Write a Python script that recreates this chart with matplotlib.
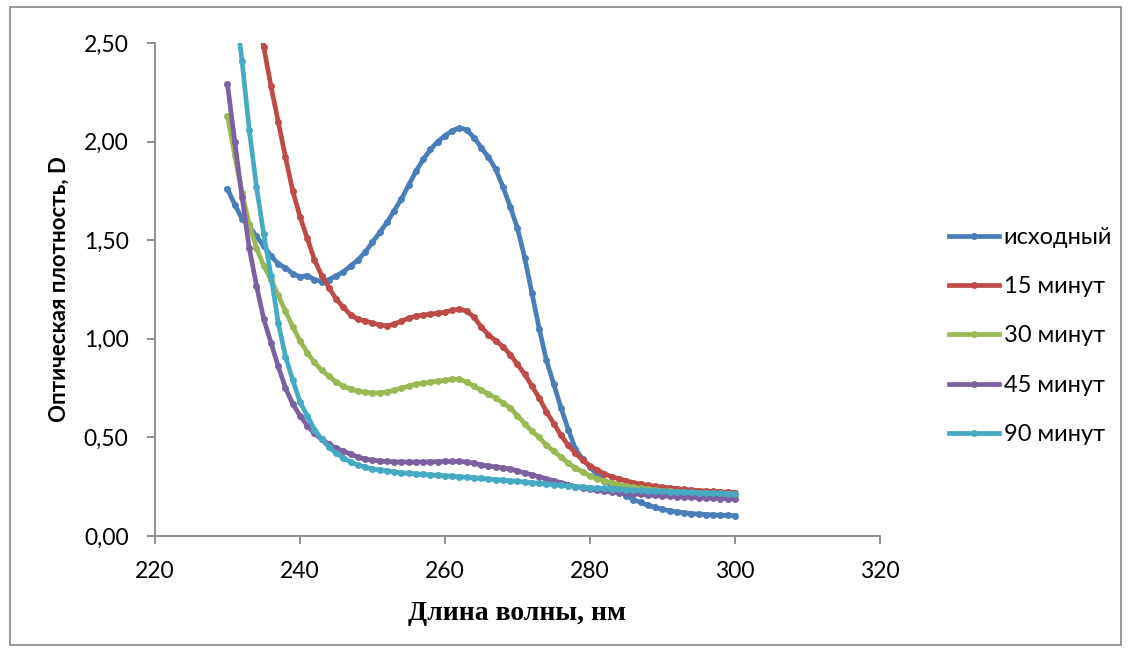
import numpy as np
import matplotlib.pyplot as plt
from matplotlib.patches import Rectangle
from matplotlib.ticker import FuncFormatter

# wavelength, nm (step 1 nm)
wl = np.arange(230, 301)

ishodny = [1.76, 1.68, 1.61, 1.57, 1.52, 1.47, 1.42, 1.38, 1.36, 1.33,
           1.315, 1.32, 1.30, 1.29, 1.30, 1.32, 1.34, 1.37, 1.40, 1.44,
           1.49, 1.54, 1.59, 1.65, 1.71, 1.78, 1.85, 1.91, 1.96, 2.00,
           2.03, 2.055, 2.07, 2.06, 2.02, 1.97, 1.92, 1.86, 1.77, 1.67,
           1.56, 1.41, 1.23, 1.05, 0.89, 0.77, 0.65, 0.54, 0.44, 0.39,
           0.35, 0.31, 0.28, 0.255, 0.23, 0.205, 0.185, 0.17, 0.155, 0.145,
           0.135, 0.128, 0.122, 0.118, 0.114, 0.111, 0.109, 0.107, 0.105, 0.104,
           0.103]

min15 = [3.75, 3.45, 3.18, 2.93, 2.70, 2.48, 2.28, 2.10, 1.92, 1.75,
         1.62, 1.51, 1.40, 1.32, 1.26, 1.20, 1.16, 1.12, 1.10, 1.09,
         1.08, 1.07, 1.065, 1.075, 1.09, 1.105, 1.115, 1.12, 1.125, 1.13,
         1.135, 1.145, 1.15, 1.14, 1.11, 1.06, 1.02, 0.99, 0.96, 0.92,
         0.87, 0.82, 0.76, 0.70, 0.63, 0.57, 0.51, 0.46, 0.42, 0.385,
         0.355, 0.335, 0.315, 0.30, 0.29, 0.28, 0.27, 0.263, 0.257, 0.252,
         0.248, 0.244, 0.240, 0.236, 0.233, 0.230, 0.228, 0.226, 0.224, 0.222,
         0.220]

min30 = [2.13, 1.93, 1.74, 1.58, 1.46, 1.37, 1.30, 1.22, 1.14, 1.06,
         0.99, 0.93, 0.88, 0.84, 0.81, 0.78, 0.76, 0.745, 0.735, 0.73,
         0.725, 0.725, 0.73, 0.74, 0.75, 0.76, 0.77, 0.775, 0.78, 0.785,
         0.79, 0.795, 0.795, 0.78, 0.76, 0.74, 0.72, 0.70, 0.675, 0.65,
         0.61, 0.57, 0.53, 0.50, 0.46, 0.43, 0.40, 0.37, 0.345, 0.325,
         0.305, 0.29, 0.28, 0.27, 0.26, 0.253, 0.247, 0.242, 0.237, 0.233,
         0.230, 0.227, 0.224, 0.222, 0.220, 0.218, 0.216, 0.214, 0.213, 0.212,
         0.210]

min45 = [2.29, 2.00, 1.72, 1.46, 1.27, 1.10, 0.98, 0.86, 0.75, 0.67,
         0.61, 0.56, 0.52, 0.49, 0.465, 0.445, 0.43, 0.415, 0.40, 0.39,
         0.385, 0.38, 0.378, 0.376, 0.375, 0.375, 0.375, 0.375, 0.376, 0.377,
         0.378, 0.378, 0.378, 0.375, 0.37, 0.36, 0.355, 0.35, 0.345, 0.34,
         0.33, 0.32, 0.31, 0.30, 0.29, 0.28, 0.27, 0.26, 0.25, 0.243,
         0.237, 0.232, 0.228, 0.224, 0.220, 0.217, 0.214, 0.211, 0.208, 0.206,
         0.204, 0.202, 0.200, 0.198, 0.196, 0.195, 0.193, 0.192, 0.190, 0.189,
         0.188]

min90 = [3.00, 2.70, 2.41, 2.06, 1.77, 1.53, 1.32, 1.08, 0.91, 0.79,
         0.68, 0.61, 0.54, 0.49, 0.45, 0.42, 0.395, 0.375, 0.36, 0.35,
         0.34, 0.335, 0.33, 0.325, 0.32, 0.318, 0.315, 0.312, 0.31, 0.308,
         0.305, 0.303, 0.30, 0.298, 0.295, 0.292, 0.289, 0.286, 0.283, 0.280,
         0.277, 0.274, 0.270, 0.267, 0.264, 0.260, 0.257, 0.254, 0.251, 0.248,
         0.245, 0.243, 0.241, 0.239, 0.237, 0.235, 0.233, 0.231, 0.229, 0.228,
         0.226, 0.225, 0.223, 0.222, 0.221, 0.219, 0.218, 0.217, 0.216, 0.215,
         0.213]

series = [
    ("исходный", ishodny, "#4A7EBB"),
    ("15 минут", min15, "#BE4B48"),
    ("30 минут", min30, "#98B954"),
    ("45 минут", min45, "#7D60A0"),
    ("90 минут", min90, "#46AAC5"),
]

plt.rcParams['font.family'] = ['Lato', 'DejaVu Sans']

fig = plt.figure(figsize=(11.3, 6.53), dpi=100)
ax = fig.add_axes([155 / 1130, 1 - 536 / 653, 725 / 1130, 493 / 653])

for name, vals, col in series:
    ax.plot(wl, vals, color=col, lw=3.4, marker='o', ms=4.0, label=name)

ax.set_xlim(220, 320)
ax.set_ylim(0, 2.5)
ax.set_xticks(np.arange(220, 321, 20))
ax.set_yticks(np.arange(0, 2.51, 0.5))
ax.yaxis.set_major_formatter(FuncFormatter(lambda v, p: f"{v:.2f}".replace('.', ',')))

for s in ['top', 'right']:
    ax.spines[s].set_visible(False)
for s in ['left', 'bottom']:
    ax.spines[s].set_color('#868686')
    ax.spines[s].set_linewidth(1.3)
ax.tick_params(colors='#868686', labelcolor='black', labelsize=16.5, length=6, width=1.3)
ax.tick_params(axis='x', pad=12)
ax.tick_params(axis='y', pad=13)

ax.set_ylabel("Оптическая плотность, D", fontsize=16, fontweight='bold', labelpad=10)
ax.set_xlabel("Длина волны, нм", fontsize=20, fontweight='bold',
              family=['Liberation Serif', 'DejaVu Serif'], labelpad=14)

fig.legend(loc='center left', bbox_to_anchor=(928 / 1130, 1 - 336 / 653),
           frameon=False, fontsize=17, handlelength=2.1, handletextpad=0.2,
           labelspacing=1.2)

# chart border
fig.patches.append(Rectangle((10 / 1130, 8 / 653), 1111 / 1130, 638 / 653,
                             transform=fig.transFigure, fill=False,
                             edgecolor='#868686', lw=1.2))

fig.savefig("out.png", dpi=100)
